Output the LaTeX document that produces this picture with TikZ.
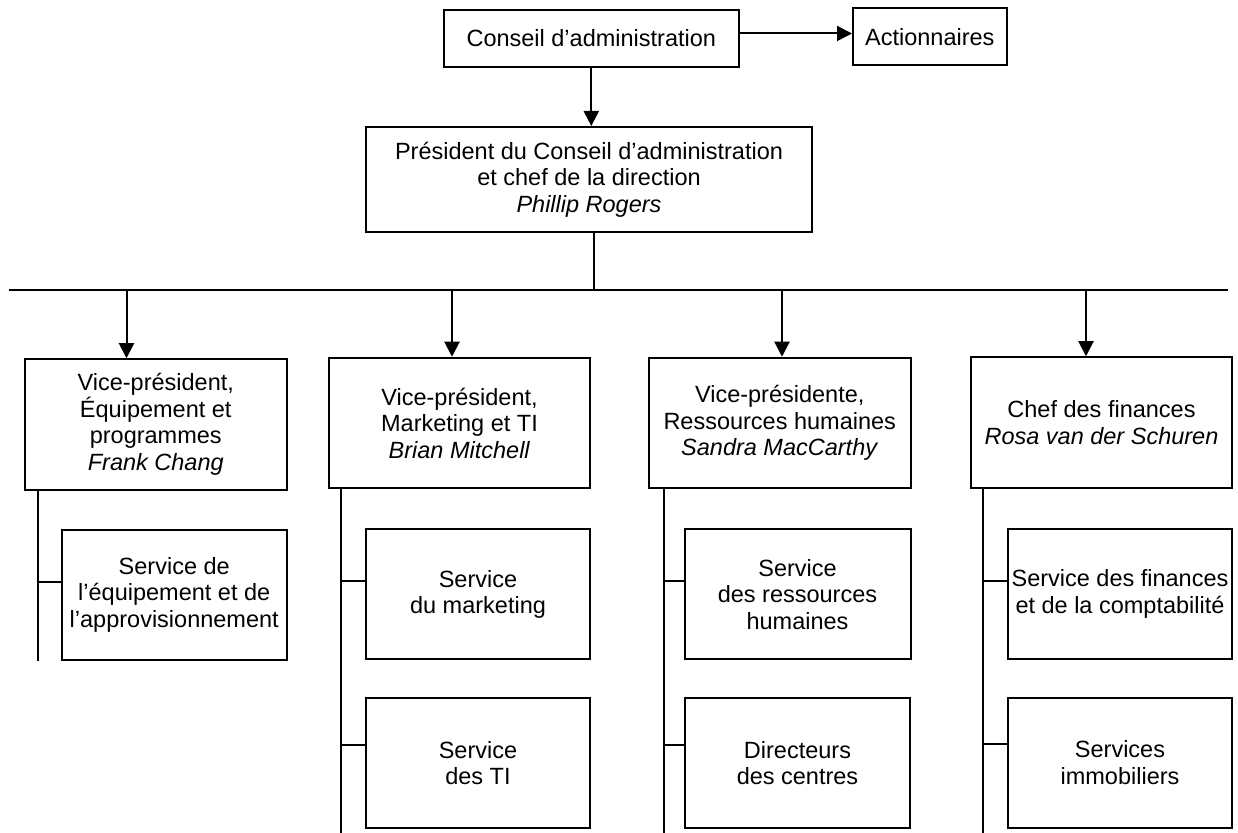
\documentclass[tikz,border=0pt]{standalone}
\usepackage{fontspec}
\setmainfont{Liberation Sans}
\usetikzlibrary{arrows.meta}
\usetikzlibrary{positioning}

\tikzset{
  box/.style={draw, line width=1pt, align=center, inner sep=0pt,
    font=\fontsize{11.75}{13.25}\selectfont},
  vpbox/.style={box, minimum width=130.75pt, minimum height=65.25pt},
  svbox/.style={box, minimum width=112.25pt, minimum height=65pt},
  link/.style={line width=1pt},
  arr/.style={link, -{Triangle[length=7.5pt,width=7.5pt]}}
}

\begin{document}
\begin{tikzpicture}[x=0.5pt,y=-0.5pt]
  \useasboundingbox (0,0) rectangle (1238,833);

  \node[box, minimum width=147.3pt, minimum height=28.5pt] (ca) at (591.3,38.5) {Conseil d’administration};
  \node[box, minimum width=76.8pt, minimum height=28.5pt] (act) at (929.8,37) {Actionnaires};
  \node[box, minimum width=223pt, minimum height=52.5pt] (pdg) at (589,179.5)
    {Président du Conseil d’administration\\et chef de la direction\\\textit{Phillip Rogers}};

  \node[vpbox] (vpa) at (155.75,424.5) {Vice-président,\\Équipement et\\programmes\\\textit{Frank Chang}};
  \node[vpbox] (vpb) at (459.5,423) {Vice-président,\\Marketing et TI\\\textit{Brian Mitchell}};
  \node[vpbox] (vpc) at (779.75,423) {Vice-présidente,\\Ressources humaines\\\textit{Sandra MacCarthy}};
  \node[vpbox] (vpd) at (1101.5,422.5) {Chef des finances\\\textit{Rosa van der Schuren}};

  \node[svbox, below=19pt of vpa.south east, anchor=north east] (sa) {Service de\\l’équipement et de\\l’approvisionnement};
  \node[svbox, below=19.5pt of vpb.south east, anchor=north east] (sba) {Service\\du marketing};
  \node[svbox, below=18.5pt of sba] (sbb) {Service\\des TI};
  \node[svbox, below=19.5pt of vpc.south east, anchor=north east, minimum width=113pt] (sca) {Service\\des ressources\\humaines};
  \node[svbox, below=18.5pt of sca] (scb) {Directeurs\\des centres};
  \node[svbox, below=19.5pt of vpd.south east, anchor=north east] (sda) {Service des finances\\et de la comptabilité};
  \node[svbox, below=18.5pt of sda] (sdb) {Services\\immobiliers};

  % top part
  \path ([yshift=2.5pt]ca.east) coordinate (ce);
  \draw[arr] (ce) -- (ce -| act.west);
  \draw[arr] (ca.south) -- (ca.south |- pdg.north);

  % bus
  \coordinate (busl) at (9,290);
  \coordinate (busr) at (1227.5,290);
  \draw[link] (busl) -- (busr);
  \path ([xshift=2.5pt]pdg.south) coordinate (pb);
  \draw[link] (pb) -- (pb |- busl);
  \foreach \x/\v in {126.5/vpa, 452/vpb, 782/vpc, 1086/vpd}
    \draw[arr] (\x,290) -- (\x,290 |- \v.north);

  % columns
  \path ([xshift=7pt]vpa.south west) coordinate (ta);
  \path ([xshift=6.5pt]vpb.south west) coordinate (tb);
  \path ([xshift=7.75pt]vpc.south west) coordinate (tc);
  \path ([xshift=6.7pt]vpd.south west) coordinate (td);
  \draw[link] (ta) -- (ta |- sa.south);
  \foreach \t in {tb, tc, td}
    \draw[link] (\t) -- (\t |- 0,833);
  \foreach \s/\t/\d in {sa/ta/13, sba/tb/13, sbb/tb/18.5, sca/tc/13, scb/tc/18.5, sda/td/13, sdb/td/18.5} {
    \path (\s.west) ++(0,-\d) coordinate (br);
    \draw[link] (br) -- (br -| \t);
  }
\end{tikzpicture}
\end{document}
